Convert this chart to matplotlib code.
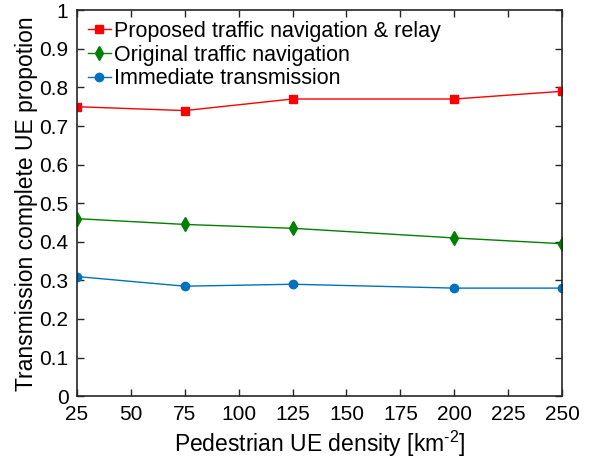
import matplotlib.pyplot as plt

plt.rcParams['font.family'] = ['Liberation Sans', 'DejaVu Sans']
plt.rcParams['mathtext.fontset'] = 'custom'
plt.rcParams['mathtext.rm'] = 'Liberation Sans'
plt.rcParams['mathtext.it'] = 'Liberation Sans'

density = [25, 75, 125, 200, 250]
proposed = [0.75, 0.74, 0.77, 0.77, 0.79]
original = [0.46, 0.445, 0.435, 0.41, 0.395]
immediate = [0.31, 0.285, 0.29, 0.28, 0.28]

fig = plt.figure(figsize=(5.95, 4.65), dpi=100)
ax = fig.add_axes([0.129, 0.148, 0.816, 0.83])

ax.plot(density, proposed, color='#FF0000', marker='s', markersize=6, lw=1,
        label='Proposed traffic navigation & relay')
ax.plot(density, original, color='#008000', marker='d', markersize=7, lw=1,
        label='Original traffic navigation')
ax.plot(density, immediate, color='#0072BD', marker='o', markersize=6, lw=1,
        label='Immediate transmission')

ax.set_xlim(25, 250)
ax.set_ylim(0, 1)
ax.set_xticks(range(25, 251, 25))
ax.set_yticks([i / 10 for i in range(11)])
ax.set_yticklabels(['0', '0.1', '0.2', '0.3', '0.4', '0.5', '0.6', '0.7', '0.8', '0.9', '1'])
ax.tick_params(direction='in', top=True, right=True, labelsize=15, length=5, width=1,
               color='#262626', pad=6)
for s in ax.spines.values():
    s.set_linewidth(1.2)
    s.set_color('#262626')

ax.set_xlabel('Pedestrian UE density [km$^{\\mathrm{\u2010}2}$]', fontsize=16.5, labelpad=4)
ax.set_ylabel('Transmission complete UE propotion', fontsize=16.5, labelpad=1)

ax.legend(loc='upper left', fontsize=15.5, frameon=False, handlelength=1.1,
          handletextpad=0.15, labelspacing=0.12, borderaxespad=0.2, borderpad=0.3)

fig.savefig('out.png', dpi=100)
